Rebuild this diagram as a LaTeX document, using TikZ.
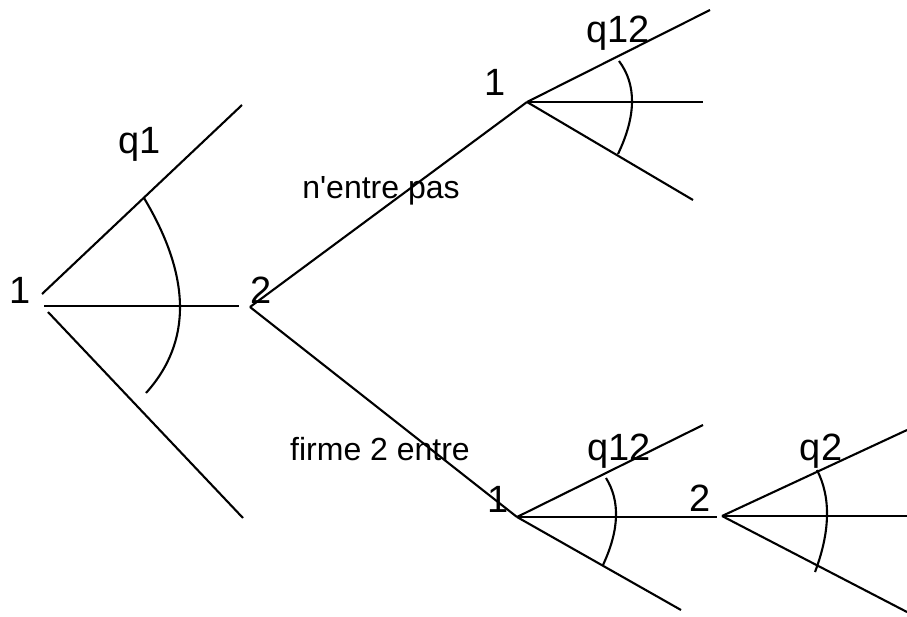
\documentclass[tikz,border=0pt]{standalone}
\usepackage{fontspec}
\setmainfont{Liberation Sans}
\usetikzlibrary{positioning}

\begin{document}
\begin{tikzpicture}[
  x=1pt, y=-1pt,
  branch/.style={line width=2.1pt, draw=black},
  bow/.style={line width=2.1pt, draw=black},
  player/.style={anchor=base, inner sep=0pt, font=\fontsize{38}{40}\selectfont},
  qty/.style={anchor=base, inner sep=0pt, font=\fontsize{38}{40}\selectfont},
  move/.style={anchor=base, inner sep=0pt, font=\fontsize{32}{34}\selectfont}
]
  \useasboundingbox (0,0) rectangle (907,616);

  % decision nodes
  \coordinate (root) at (44,306);
  \coordinate (f2) at (250,307);
  \coordinate (out) at (527,102);
  \coordinate (in1) at (517,517);
  \coordinate (in2) at (722,516);

  % ends of the continuous choices
  \coordinate (root-hi) at (242,105);
  \coordinate (root-mid) at (239,306);
  \coordinate (root-lo) at (243,518);
  \coordinate (out-hi) at (710,10);
  \coordinate (out-mid) at (703,102);
  \coordinate (out-lo) at (693,200);
  \coordinate (in1-hi) at (703,425);
  \coordinate (in1-mid) at (717,517);
  \coordinate (in1-lo) at (681,610);
  \coordinate (in2-hi) at (907,430);
  \coordinate (in2-mid) at (907,516);
  \coordinate (in2-lo) at (907,612);

  % labels
  \node[player] (p-root) at (20,303) {1};
  \node[player] (p-f2) at (261,303) {2};
  \node[player] (p-out) at (495,95) {1};
  \node[player] (p-in1) at (498,512) {1};
  \node[player] (p-in2) at (700,511) {2};
  \node[qty] (q-root) at (140,153) {q1};
  \node[qty] (q-out) at (618,42) {q12};
  \node[qty] (q-in1) at (619,460) {q12};
  \node[qty] (q-in2) at (821,460) {q2};
  \node[move] (m-out) at (381,198) {n\textquotesingle entre pas};
  \node[move] (m-in) at (380,460) {firme 2 entre};

  % branches
  \draw[branch] (root) ++(-2,-12) -- (root-hi);
  \draw[branch] (root) -- (root-mid);
  \draw[branch] (root) ++(4,6) -- (root-lo);
  \draw[branch] (f2) -- (out);
  \draw[branch] (f2) -- (in1);
  \foreach \n in {out,in1,in2}
    \foreach \e in {hi,mid,lo}
      \draw[branch] (\n) -- (\n-\e);

  % arcs over the quantity choices
  \draw[bow] (144,198) .. controls (191.3,277) and (192,342) .. (146,393);
  \draw[bow] (619,61) .. controls (636.7,84.7) and (636.3,115.7) .. (618,154);
  \draw[bow] (606,478) .. controls (620.3,501) and (619.3,530) .. (603,565);
  \draw[bow] (817,470) .. controls (831,497.3) and (830.3,531.3) .. (815,572);
\end{tikzpicture}
\end{document}
